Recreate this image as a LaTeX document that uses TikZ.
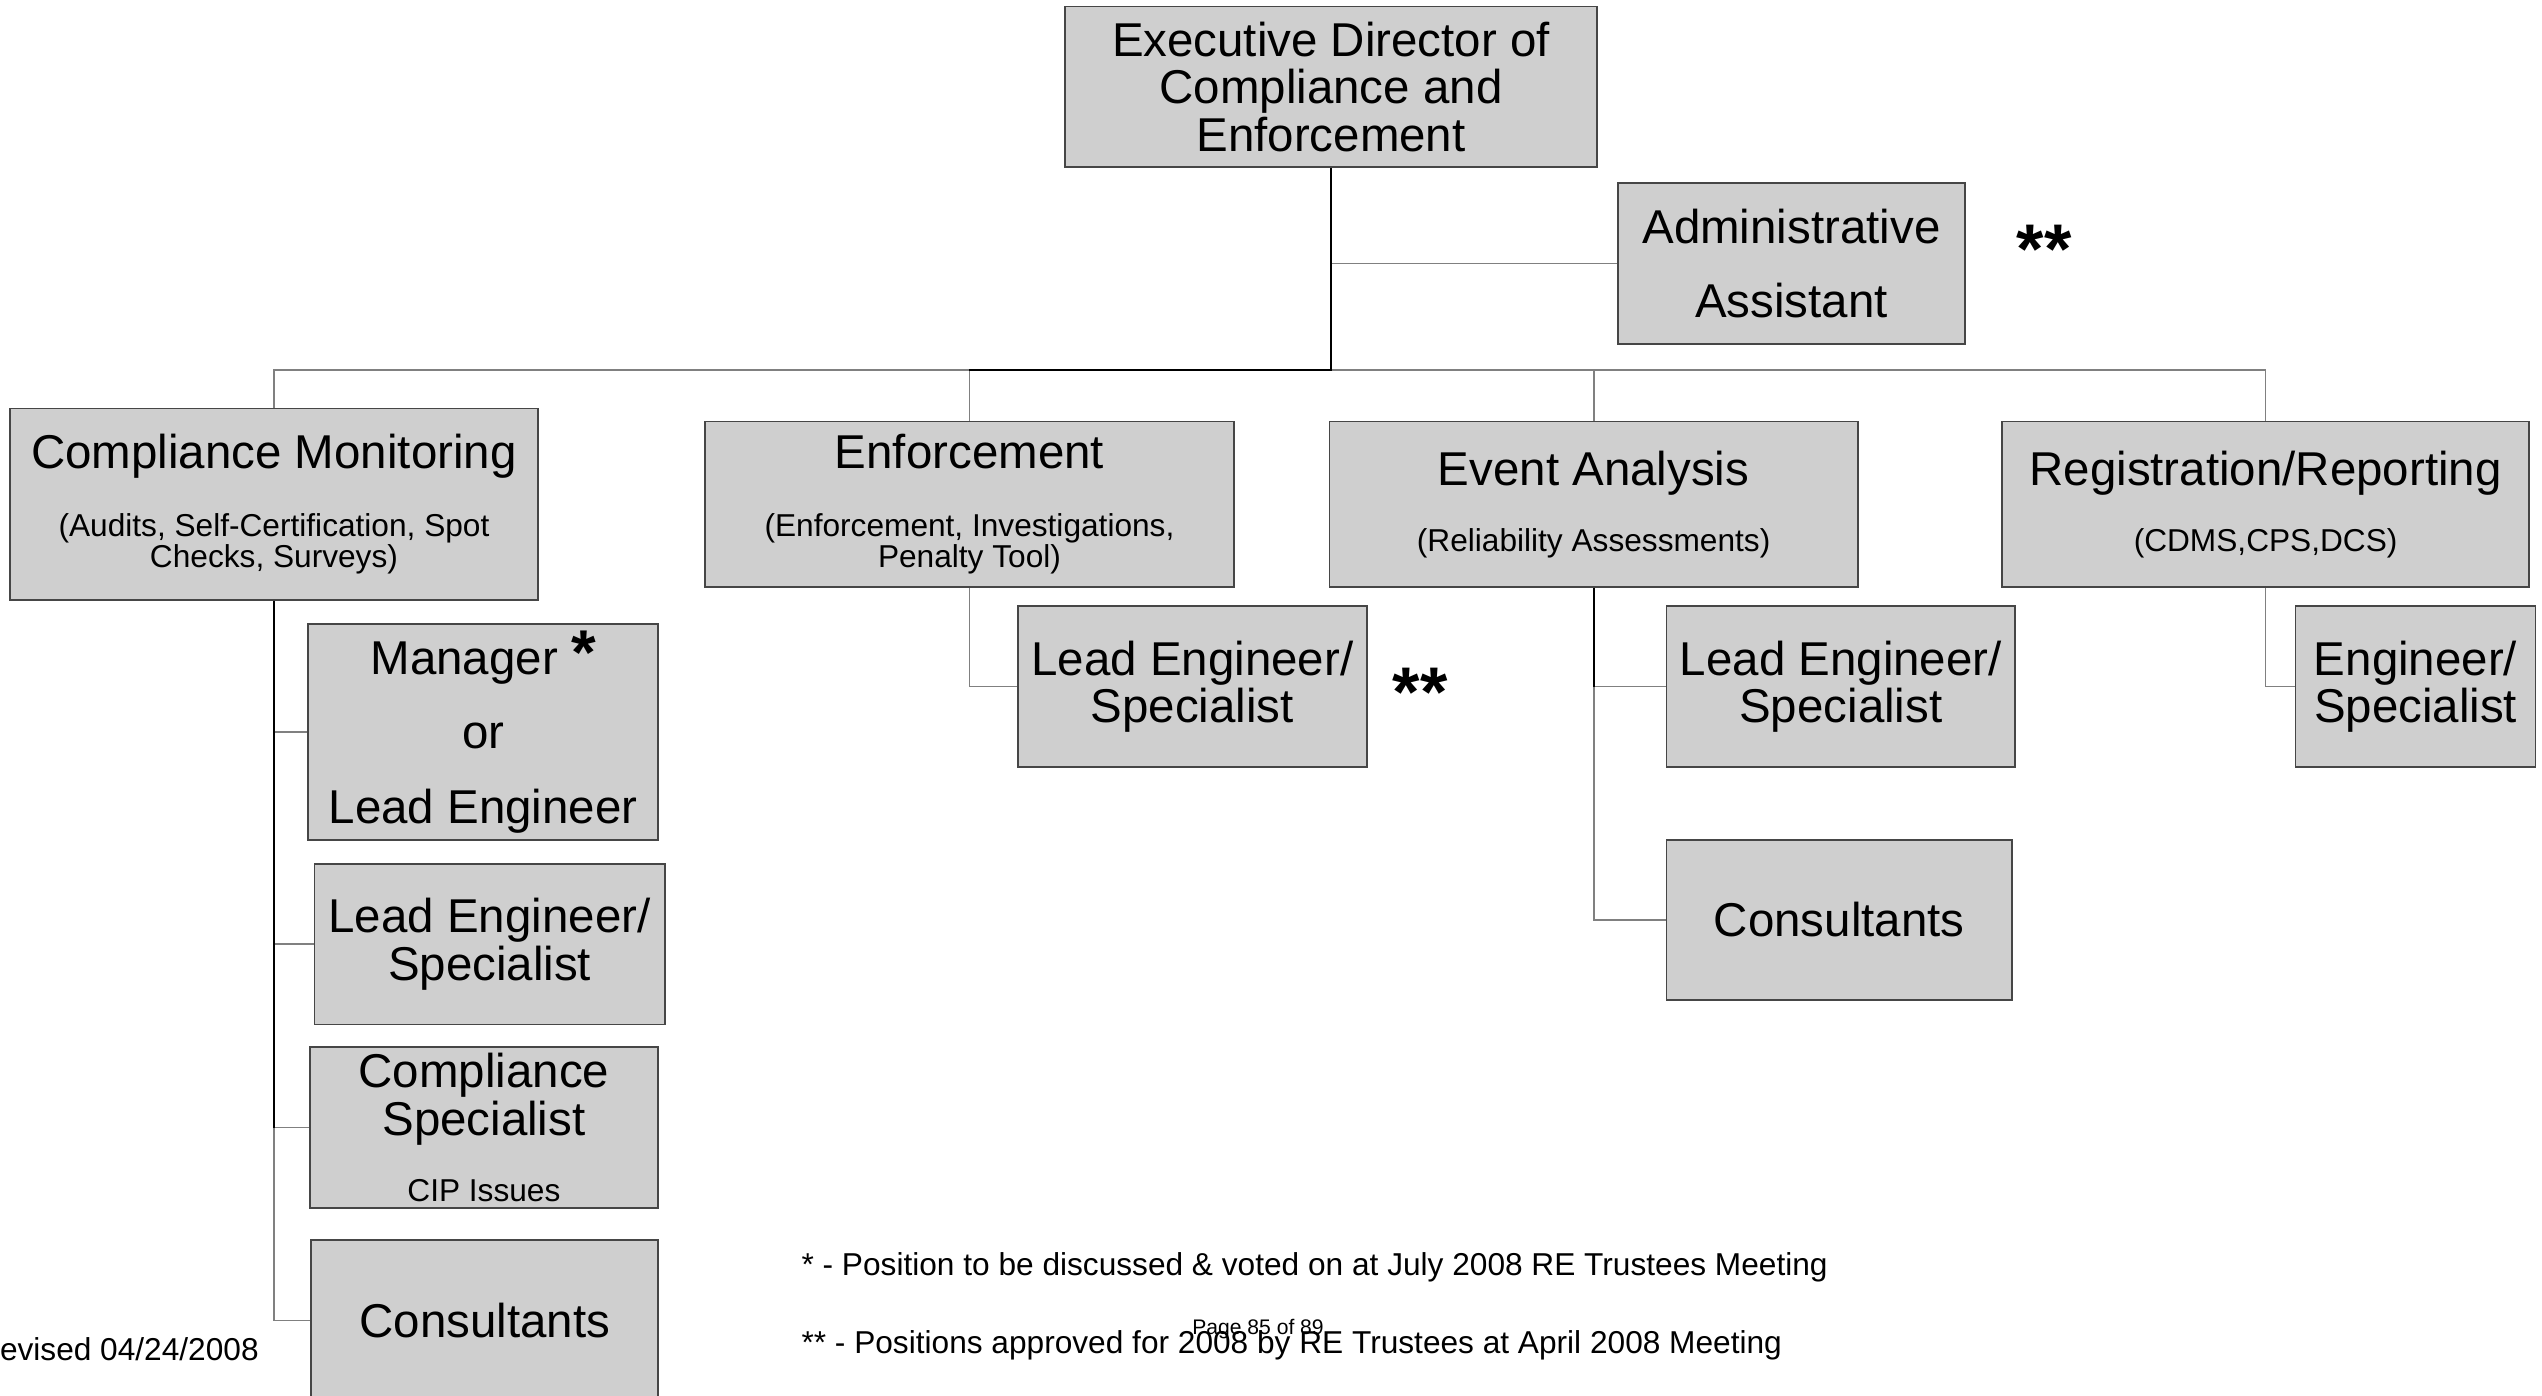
\documentclass[tikz,border=0pt]{standalone}
\usepackage{fontspec}
\setmainfont{Liberation Sans}
\newcommand\pxu{0.01621cm}
\newcommand\subfont{\fontsize{9}{9}\selectfont}
\newcommand\starfont{\fontsize{20}{20}\selectfont\bfseries}
\begin{document}
\begin{tikzpicture}[x=\pxu, y=-\pxu, font=\fontsize{13.5}{13.5}\selectfont,
    orgbox/.style={draw=boxline, fill=boxfill, line width=0.5pt, inner sep=0pt, align=center},
    boxsize/.style 2 args={minimum width=#1*\pxu, minimum height=#2*\pxu},
    link/.style={draw=linkgray, line width=0.5pt},
    mainlink/.style={draw=black, line width=0.6pt},
    note/.style={font=\subfont, inner sep=0pt}]
    \definecolor{boxfill}{RGB}{207, 207, 207}
    \definecolor{boxline}{RGB}{70, 70, 70}
    \definecolor{linkgray}{RGB}{128, 128, 128}

    \useasboundingbox (0,0) rectangle (1568,861);

    % 顶层
    \node[orgbox, boxsize={328}{99}] (exec) at (821,53.5) {Executive Director of\\Compliance and\\Enforcement};
    \node[orgbox, boxsize={214}{99}] (admin) at (1105,162.5) {Administrative\\[7.6pt]Assistant};
    \node[font=\starfont, inner sep=0pt] (adminstar) at (1261,154) {**};

    % 四个部门
    \node[orgbox, boxsize={326}{118}] (cm) at (169,311) {Compliance Monitoring\\[5.8pt]{\subfont (Audits, Self-Certification, Spot}\\[-4.8pt]{\subfont Checks, Surveys)}};
    \node[orgbox, boxsize={326}{102}] (enf) at (598,311) {Enforcement\\[5.8pt]{\subfont (Enforcement, Investigations,}\\[-4.8pt]{\subfont Penalty Tool)}};
    \node[orgbox, boxsize={326}{102}] (ea) at (983,311) {Event Analysis\\[5.3pt]{\subfont (Reliability Assessments)}};
    \node[orgbox, boxsize={325}{102}] (reg) at (1397.5,311) {Registration/Reporting\\[5.3pt]{\subfont (CDMS,CPS,DCS)}};

    % Compliance Monitoring 下属
    \node[orgbox, boxsize={216}{133}] (mgr) at (298,451.5) {Manager {\fontsize{18}{18}\selectfont\bfseries *}\\[7.6pt]or\\[7.6pt]Lead Engineer};
    \node[orgbox, boxsize={216}{99}] (cmlead) at (302,582.5) {Lead Engineer/\\Specialist};
    \node[orgbox, boxsize={215}{99}] (cmspec) at (298.5,695.5) {Compliance\\Specialist\\[5.3pt]{\subfont CIP Issues}};
    \node[orgbox, boxsize={214}{99}] (cmcons) at (299,814.5) {Consultants};

    % 其他下属
    \node[orgbox, boxsize={215}{99}] (enflead) at (735.5,423.5) {Lead Engineer/\\Specialist};
    \node[font=\starfont, inner sep=0pt] (enfstar) at (876,427) {**};
    \node[orgbox, boxsize={215}{99}] (ealead) at (1135.5,423.5) {Lead Engineer/\\Specialist};
    \node[orgbox, boxsize={213}{99}] (eacons) at (1134.5,567.5) {Consultants};
    \node[orgbox, boxsize={148}{99}] (regeng) at (1490,423.5) {Engineer/\\Specialist};

    % 连线
    \coordinate (bus) at (0,228);
    \draw[link] (admin.west) -- (admin.west -| exec.south);
    \draw[link] (cm.north) -- (cm.north |- bus) -| (reg.north);
    \draw[link] (enf.north) -- (enf.north |- bus);
    \draw[link] (ea.north) -- (ea.north |- bus);
    \draw[mainlink] (exec.south) -- (exec.south |- bus) -- (enf.north |- bus);

    \draw[link] (cm.south) |- (cmcons.west);
    \draw[link] (cm.south |- mgr.west) -- (mgr.west);
    \draw[link] (cm.south |- cmlead.west) -- (cmlead.west);
    \draw[link] (cm.south |- cmspec.west) -- (cmspec.west);
    \draw[mainlink] (cm.south) -- (cm.south |- cmspec.west);

    \draw[link] (enf.south) |- (enflead.west);
    \draw[link] (ea.south) |- (eacons.west);
    \draw[link] (ea.south |- ealead.west) -- (ealead.west);
    \draw[mainlink] (ea.south) -- (ea.south |- ealead.west);
    \draw[link] (reg.south) |- (regeng.west);

    % 脚注
    \node[note, anchor=west] (note1) at (494,782) {* - Position to be discussed \& voted on at July 2008 RE Trustees Meeting};
    \node[note, anchor=west] (note2) at (494,830) {** - Positions approved for 2008 by RE Trustees at April 2008 Meeting};
    \node[note, anchor=east] (revised) at (160,832) {Revised 04/24/2008};
    \node[font=\fontsize{6}{6}\selectfont, inner sep=0pt] (page) at (776,820) {Page 85 of 89};
\end{tikzpicture}
\end{document}
